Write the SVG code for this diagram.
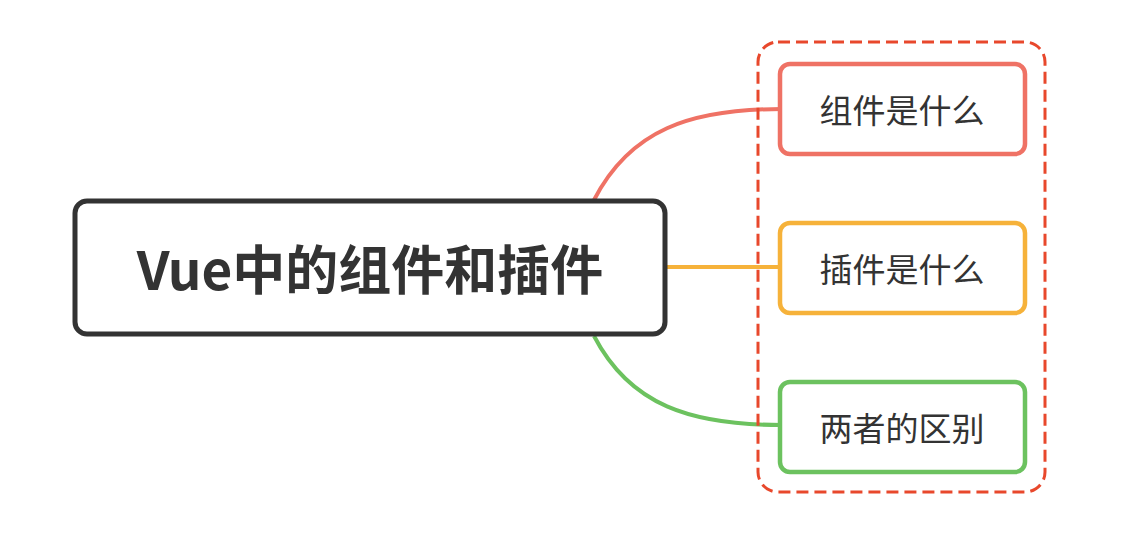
<svg xmlns="http://www.w3.org/2000/svg" width="1125" height="534" viewBox="0 0 1125 534">
<style>
.c{fill:none;stroke-width:4}
.box{fill:#fff;stroke-width:4.5}
.t{font-family:"Noto Sans CJK SC","Noto Sans",sans-serif;font-size:33px;fill:#333;text-anchor:middle;dominant-baseline:central}
</style>
<rect width="1125" height="534" fill="#fff"/>
<g id="connectors">
<path class="c" stroke="#ef7265" d="M594,200 C630,130 690,109 782,109"/>
<path class="c" stroke="#f6b23a" d="M665,267 H782"/>
<path class="c" stroke="#6cc25f" d="M594,336 C630,405 690,425 782,425"/>
</g>
<g id="group">
<rect x="758" y="42" width="287" height="450" rx="20" fill="none" stroke="#e8482c" stroke-width="3" stroke-dasharray="12 6"/>
</g>
<g id="root">
<rect x="75" y="201" width="590" height="133" rx="12" fill="#fff" stroke="#333" stroke-width="5"/>
<text x="370" y="267" class="t" style="font-size:53px;font-weight:bold;fill:#333">Vue中的组件和插件</text>
</g>
<g id="n1">
<rect class="box" x="780" y="64" width="245" height="90" rx="10" stroke="#ef7265"/>
<text x="902" y="109" class="t">组件是什么</text>
</g>
<g id="n2">
<rect class="box" x="780" y="223" width="245" height="90" rx="10" stroke="#f6b23a"/>
<text x="902" y="268" class="t">插件是什么</text>
</g>
<g id="n3">
<rect class="box" x="780" y="382" width="245" height="90" rx="10" stroke="#6cc25f"/>
<text x="902" y="427" class="t">两者的区别</text>
</g>
</svg>
